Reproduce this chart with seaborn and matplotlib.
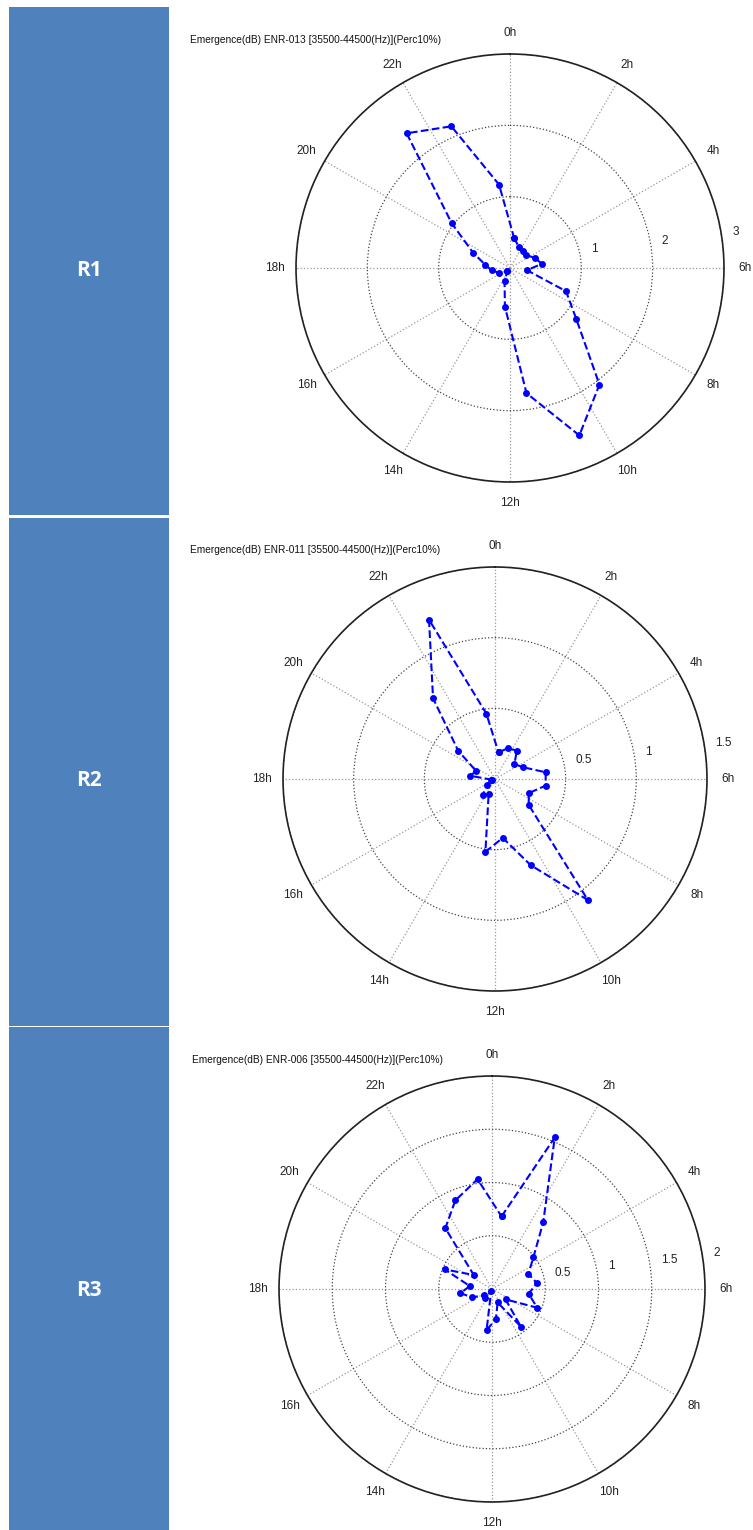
import numpy as np
import pandas as pd
import matplotlib
matplotlib.use("Agg")
import matplotlib.pyplot as plt
import seaborn as sns
from matplotlib.patches import Rectangle
from matplotlib.transforms import ScaledTranslation

plt.rcParams['font.family'] = ['Liberation Sans', 'DejaVu Sans']

# measurement hour (middle of each hourly slot)
hours = [0.5, 1.5, 2.5, 3.5, 4.5, 5.5, 6.5, 7.5, 8.5, 9.5, 10.5, 11.5,
         12.5, 13.5, 14.5, 15.5, 16.5, 17.5, 18.5, 19.5, 20.5, 21.5, 22.5, 23.5]

# emergence (dB) per hour
r1_vals = [0.43, 0.32, 0.30, 0.29, 0.375, 0.45, 0.24, 0.85, 1.17, 2.06, 2.54, 1.77,
           0.545, 0.20, 0.06, 0.06, 0.17, 0.26, 0.35, 0.56, 1.03, 2.38, 2.15, 1.18]
r2_vals = [0.19, 0.235, 0.254, 0.173, 0.217, 0.362, 0.361, 0.26, 0.30, 1.08, 0.66, 0.42,
           0.52, 0.118, 0.139, 0.074, 0.02, 0.03, 0.18, 0.143, 0.328, 0.72, 1.22, 0.466]
r3_vals = [0.687, 1.54, 0.79, 0.49, 0.37, 0.425, 0.347, 0.46, 0.16, 0.445, 0.137, 0.284,
           0.39, 0.02, 0.11, 0.10, 0.203, 0.30, 0.21, 0.48, 0.216, 0.72, 0.90, 1.04]

row_labels = ['R1', 'R2', 'R3']
titles = ['Emergence(dB) ENR-013 [35500-44500(Hz)](Perc10%)',
          'Emergence(dB) ENR-011 [35500-44500(Hz)](Perc10%)',
          'Emergence(dB) ENR-006 [35500-44500(Hz)](Perc10%)']
r_ticks = [[1, 2, 3], [0.5, 1, 1.5], [0.5, 1, 1.5, 2]]
r_ticklabels = [['1', '2', '3'], ['0.5', '1', '1.5'], ['0.5', '1', '1.5', '2']]
hour_ticks = [0, 2, 4, 6, 8, 10, 12, 14, 16, 18, 20, 22]
hour_labels = [f'{h}h' for h in hour_ticks]

W, H = 753, 1530
fig = plt.figure(figsize=(W / 100, H / 100), dpi=100)

# left blue boxes (pixel coords: x0, y0, x1, y1)
boxes = [(9, 7, 169, 515), (9, 518, 169, 1026), (9, 1027, 169, 1530)]
# polar chart centres and outer radius in pixels
centres = [(510, 268, 214), (495, 779, 212), (492, 1289, 213)]
title_pos = [(190, 40), (190, 550), (192, 1060)]

for (x0, y0, x1, y1) in boxes:
    fig.add_artist(Rectangle((x0 / W, 1 - y1 / H), (x1 - x0) / W, (y1 - y0) / H,
                             transform=fig.transFigure, color='#4F81BD', lw=0))

series = [r1_vals, r2_vals, r3_vals]
for i, vals in enumerate(series):
    cx, cy, R = centres[i]
    ax = fig.add_axes([(cx - R) / W, (H - cy - R) / H, 2 * R / W, 2 * R / H],
                      projection='polar')
    ax.set_theta_zero_location('N')
    ax.set_theta_direction(-1)

    df = pd.DataFrame({'hour': hours + [hours[0] + 24], 'val': vals + [vals[0]]})
    df['theta'] = df['hour'] * 2 * np.pi / 24
    sns.lineplot(data=df, x='theta', y='val', ax=ax, sort=False, estimator=None,
                 color='#0000FF', linestyle='--', lw=1.5, marker='o', markersize=5,
                 markeredgecolor='#0000FF', markeredgewidth=0)

    ax.set_ylim(0, r_ticks[i][-1])
    ax.set_yticks(r_ticks[i])
    ax.set_yticklabels(r_ticklabels[i], fontsize=8.5, color='#222222')
    ax.set_rlabel_position(83)
    for lab in ax.get_yticklabels():
        lab.set_transform(lab.get_transform() + ScaledTranslation(10 / 100, 4 / 100, fig.dpi_scale_trans))
    ax.set_xticks(np.array(hour_ticks) * 2 * np.pi / 24)
    ax.set_xticklabels(hour_labels, fontsize=8.5, color='#222222')
    ax.tick_params(axis='x', pad=4.5)
    ax.set_xlabel('')
    ax.set_ylabel('')
    ax.grid(True, axis='y', color='#444444', linestyle=':', lw=0.9)
    ax.grid(True, axis='x', color='#999999', linestyle=':', lw=0.9)
    ax.spines['polar'].set_color('#222222')
    ax.spines['polar'].set_linewidth(1.2)

    tx, ty = title_pos[i]
    fig.text(tx / W, 1 - ty / H, titles[i], fontsize=7.3, ha='left', va='center', color='#111111')

    bx0, by0, bx1, by1 = boxes[i]
    fig.text(((bx0 + bx1) / 2) / W, 1 - (cy + 2) / H, row_labels[i], fontsize=15,
             fontweight='bold', color='white', ha='center', va='center',
             family=['Open Sans', 'DejaVu Sans'])

fig.savefig('out.png', dpi=100)
